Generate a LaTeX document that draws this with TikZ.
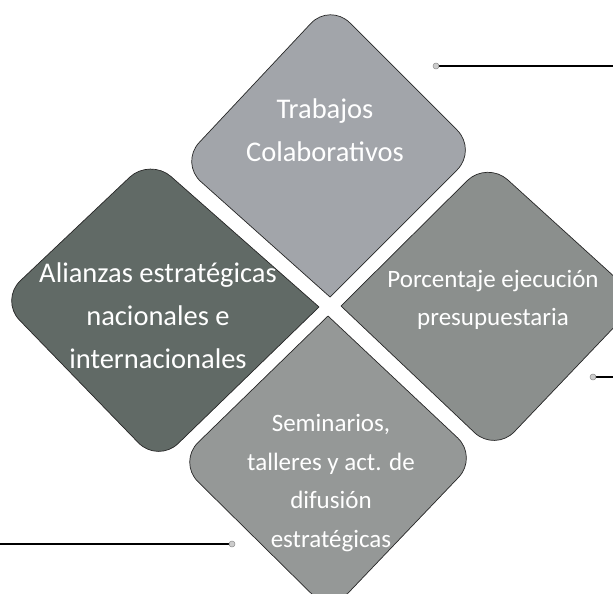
\documentclass[tikz,border=0pt]{standalone}
\usepackage{fontspec}
\setmainfont{Carlito}
\usetikzlibrary{positioning}
\definecolor{grisarriba}{RGB}{162,165,170}
\definecolor{grisizq}{RGB}{97,106,102}
\definecolor{grisder}{RGB}{139,143,141}
\definecolor{grisabajo}{RGB}{149,152,151}
\tikzset{
	rombo/.style={draw=black!85, line width=0.7pt, line join=round},
	texto/.style={text=white, align=center, inner sep=0pt},
	grande/.style={font=\fontsize{28.5}{43}\selectfont},
	chico/.style={font=\fontsize{25}{38.5}\selectfont},
	linea/.style={line width=1.3pt},
	punto/.style={draw=black!45, fill=black!20, line width=0.5pt}
}
\begin{document}
\begin{tikzpicture}[x=1pt,y=-1pt]
			\useasboundingbox (0,0) rectangle (613,594);
			\coordinate (ta) at (330,3);
			\coordinate (tr) at (477,150);
			\coordinate (tb) at (330,297);
			\coordinate (tl) at (180,163);
			\coordinate (la) at (150,158);
			\coordinate (lr) at (319,307);
			\coordinate (lb) at (158,463);
			\coordinate (ll) at (0,300);
			\coordinate (ra) at (487,161);
			\coordinate (rr) at (640,300);
			\coordinate (rb) at (495,452);
			\coordinate (rl) at (341,306);
			\coordinate (ba) at (328,316);
			\coordinate (br) at (478,457);
			\coordinate (bb) at (330,612);
			\coordinate (bl) at (178,462);
			\filldraw[rombo, fill=grisarriba] (tb) [rounded corners=28pt] -- (tl) -- (ta) -- (tr) [sharp corners] -- cycle;
			\filldraw[rombo, fill=grisizq] (lr) [rounded corners=28pt] -- (la) -- (ll) -- (lb) [sharp corners] -- cycle;
			\filldraw[rombo, fill=grisder] (rl) [rounded corners=28pt] -- (ra) -- (rr) -- (rb) [sharp corners] -- cycle;
			\filldraw[rombo, fill=grisabajo] (ba) [rounded corners=28pt] -- (bl) -- (bb) -- (br) [sharp corners] -- cycle;
			\node[texto, grande] (t1) at (325,130) {Trabajos\\Colaborativos};
			\node[texto, grande] (t2) at (158,316) {Alianzas estratégicas\\nacionales e\\internacionales};
			\node[texto, chico] (t3) at (493,300) {Porcentaje ejecución\\presupuestaria};
			\node[texto, chico] (t4) at (331,483) {Seminarios,\\talleres y act. de\\difusión\\estratégicas};
			
			\coordinate (p1) at (436,66);
			\coordinate (q1) at (613,66);
			\coordinate (p2) at (593,377);
			\coordinate (q2) at (613,377);
			\coordinate (p3) at (232,544);
			\coordinate (q3) at (0,544);
			\draw[linea] (p1) -- (q1);
			\draw[linea] (p2) -- (q2);
			\draw[linea] (q3) -- (p3);
			\foreach \x in {p1,p2,p3} {\filldraw[punto] (\x) circle (3pt);}
		\end{tikzpicture}
\end{document}
